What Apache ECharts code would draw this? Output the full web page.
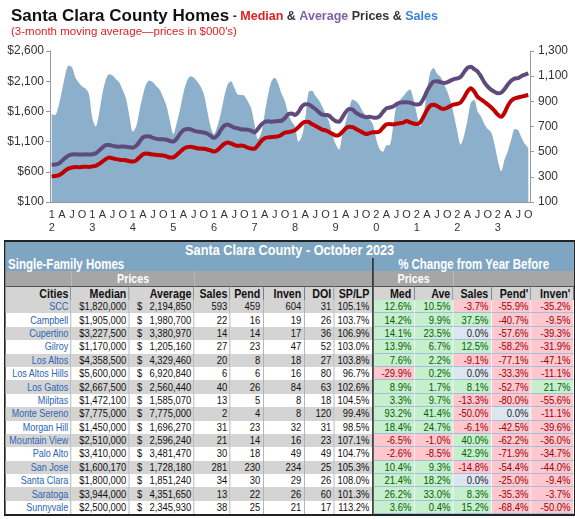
<!DOCTYPE html>
<html>
<head>
<meta charset="utf-8">
<script src="https://cdn.jsdelivr.net/npm/echarts@6.0.0/dist/echarts.min.js"></script>
<style>
  html, body { margin: 0; padding: 0; background: #fff; }
  #wrap { position: relative; width: 575px; height: 519px; overflow: hidden; }
  #chart { position: absolute; left: 0; top: 0; width: 575px; height: 240px; }
  #tbl {
    position: absolute; left: 4px; top: 240px;
    transform: scaleX(0.82); transform-origin: 0 0;
    border-collapse: separate; border-spacing: 0; table-layout: fixed;
    border: 2px solid #222;
    font-family: 'Liberation Sans', Arial, sans-serif;
    font-size: 11.5px; color: #111;
  }
  #tbl td { padding: 0 3px; white-space: nowrap; overflow: hidden; text-align: right; box-sizing: border-box; }
  #tbl tr.ttl td { background: #7ea5c2; color: #fff; font-weight: bold; font-size: 15.5px; text-align: center; height: 16px; line-height: 16px; }
  #tbl tr.sec td { background: #7ea5c2; color: #fff; font-weight: bold; font-size: 14px; height: 13px; line-height: 13px; vertical-align: top; overflow: visible; }
  #tbl tr.prc td { background: #a6a6a6; color: #fff; font-weight: bold; font-size: 13px; height: 15px; line-height: 15px; text-align: center; }
  #tbl tr.hdr td { background: #d4d4d4; font-weight: bold; font-size: 13px; height: 14px; line-height: 13px; border-right: 1px solid #666; border-top: 1px solid #555; }
  #tbl tr.row td { height: 13.4px; line-height: 13px; border-right: 1px solid #a8a8a8; }
  #tbl tr.row.g td { background: #d4d4d4; }
  #tbl tr.row td.city { color: #2d64b3; font-size: 11px; }
  #tbl td.sep { border-right: 2px solid #222 !important; }
  #tbl tr.row td.pc { border-right: 1px solid #fff; border-bottom: 1px solid #a4bddc; padding-right: 3px; line-height: 12px; }
  #tbl td.up { background: #c6efce !important; color: #006100; }
  #tbl td.dn { background: #ffc7ce !important; color: #9c0006; }
  #tbl td.nz { background: #dce6f1 !important; color: #222; }
  #tbl td.avg span { float: left; padding-left: 6px; }
</style>
</head>
<body>
<div id="wrap">
  <div id="chart"></div>
  <table id="tbl"></table>
</div>
<script>
// chart data: monthly, Jan 2012 - Oct 2023, 3-month moving averages
const years = ['12', '13', '14', '15', '16', '17', '18', '19', '20', '21', '22', '23'];
const monthsInLastYear = 10;

// median price, $000's
const median = [
  525, 530, 540, 575, 620, 655, 670, 680, 675, 680, 685, 680,
  690, 700, 730, 770, 810, 835, 825, 810, 800, 795, 790, 775,
  770, 790, 840, 890, 905, 895, 885, 880, 875, 870, 855, 835,
  840, 880, 930, 980, 1010, 1015, 1005, 990, 985, 980, 970, 955,
  935, 960, 1010, 1060, 1085, 1070, 1045, 1030, 1035, 1025, 1000, 985,
  980, 1040, 1110, 1155, 1170, 1175, 1180, 1185, 1215, 1250, 1255, 1270,
  1290, 1340, 1395, 1430, 1425, 1390, 1360, 1330, 1300, 1285, 1260, 1230,
  1200, 1210, 1260, 1320, 1345, 1340, 1310, 1280, 1250, 1225, 1240, 1255,
  1255, 1270, 1330, 1385, 1390, 1385, 1395, 1405, 1415, 1440, 1420, 1400,
  1390, 1420, 1510, 1620, 1695, 1710, 1690, 1655, 1640, 1660, 1690, 1715,
  1725, 1750, 1830, 1930, 1985, 1930, 1840, 1800, 1760, 1715, 1670, 1610,
  1545, 1510, 1580, 1700, 1780, 1815, 1830, 1845, 1860, 1872
];

// average price, $000's
const average = [
  715, 720, 735, 780, 830, 870, 885, 890, 885, 885, 890, 885,
  890, 905, 950, 1000, 1040, 1045, 1030, 1020, 1015, 1020, 1015, 1005,
  1000, 1030, 1100, 1170, 1190, 1185, 1160, 1145, 1140, 1140, 1130, 1110,
  1100, 1150, 1230, 1290, 1310, 1305, 1280, 1265, 1260, 1250, 1235, 1195,
  1160, 1200, 1290, 1360, 1385, 1360, 1330, 1320, 1305, 1300, 1295, 1280,
  1255, 1310, 1380, 1425, 1435, 1430, 1435, 1440, 1445, 1490, 1555, 1565,
  1540, 1590, 1680, 1720, 1715, 1680, 1640, 1590, 1545, 1540, 1530, 1480,
  1440, 1430, 1500, 1590, 1640, 1630, 1580, 1545, 1520, 1505, 1510, 1500,
  1495, 1520, 1590, 1650, 1665, 1680, 1720, 1745, 1750, 1752, 1745, 1725,
  1715, 1725, 1810, 1930, 2030, 2095, 2100, 2085, 2070, 2080, 2110, 2135,
  2145, 2175, 2250, 2320, 2340, 2300, 2260, 2180, 2080, 2010, 1960, 1925,
  1900, 1910, 1970, 2050, 2110, 2145, 2150, 2185, 2210, 2230
];

// sales, units
const sales = [
  800, 790, 860, 980, 1110, 1185, 1170, 1090, 1050, 1020, 1000, 960,
  770, 700, 800, 960, 1070, 1115, 1105, 1075, 1050, 990, 920, 780,
  660, 700, 830, 950, 1040, 1065, 1050, 1020, 990, 930, 860, 740,
  640, 730, 840, 970, 1060, 1100, 1090, 1060, 1020, 960, 830, 700,
  640, 700, 800, 930, 1030, 1060, 1010, 955, 950, 945, 900, 845,
  720, 600, 650, 800, 950, 1060, 1088, 1040, 960, 900, 800, 740,
  700, 580, 620, 760, 975, 985, 945, 910, 860, 800, 740, 640,
  560, 515, 640, 740, 840, 915, 900, 870, 820, 790, 760, 720,
  600, 520, 500, 550, 553, 700, 870, 910, 940, 975, 995, 920,
  800, 700, 790, 980, 1130, 1165, 1120, 1096, 1040, 980, 900, 790,
  660, 555, 630, 750, 890, 910, 820, 780, 720, 680, 655, 560,
  430, 345, 440, 510, 600, 680, 670, 610, 560, 530
];

// table data
const tableTitle = 'Santa Clara County - October 2023';
const headers = ['Cities', 'Median', 'Average', 'Sales', 'Pend', 'Inven', 'DOI', 'SP/LP', 'Med', 'Ave', 'Sales', "Pend'", "Inven'"];
const cities = ['SCC', 'Campbell', 'Cupertino', 'Gilroy', 'Los Altos', 'Los Altos Hills', 'Los Gatos', 'Milpitas',
  'Monte Sereno', 'Morgan Hill', 'Mountain View', 'Palo Alto', 'San Jose', 'Santa Clara', 'Saratoga', 'Sunnyvale'];
const medianPrice = ['1,820,000', '1,905,000', '3,227,500', '1,170,000', '4,358,500', '5,600,000', '2,667,500', '1,472,100',
  '7,775,000', '1,450,000', '2,510,000', '3,410,000', '1,600,170', '1,800,000', '3,944,000', '2,500,000'];
const averagePrice = ['2,194,850', '1,980,700', '3,380,970', '1,205,160', '4,329,460', '6,920,840', '2,560,440', '1,585,070',
  '7,775,000', '1,696,270', '2,596,240', '3,481,470', '1,728,180', '1,851,240', '4,351,650', '2,345,930'];
const salesCount = [593, 22, 14, 27, 20, 6, 40, 13, 2, 31, 21, 30, 281, 34, 13, 38];
const pending = [459, 16, 14, 23, 8, 6, 26, 5, 4, 23, 14, 18, 230, 30, 22, 25];
const inventory = [604, 19, 17, 47, 18, 16, 84, 8, 8, 32, 16, 49, 234, 29, 26, 21];
const doi = [31, 26, 36, 52, 27, 80, 63, 18, 120, 31, 23, 49, 25, 26, 60, 17];
const spLp = ['105.1%', '103.7%', '106.9%', '103.0%', '103.8%', '96.7%', '102.6%', '104.5%',
  '99.4%', '98.5%', '107.1%', '104.7%', '105.3%', '108.0%', '101.3%', '113.2%'];
const chgMed = [12.6, 14.2, 14.1, 13.9, 7.6, -29.9, 8.9, 3.3, 93.2, 18.4, -6.5, -2.6, 10.4, 21.4, 26.2, 3.6];
const chgAve = [10.5, 9.9, 23.5, 6.7, 2.2, 0.2, 1.7, 9.7, 41.4, 24.7, -1.0, -8.5, 9.3, 18.2, 33.0, 0.4];
const chgSales = [-3.7, 37.5, 0.0, 12.5, -9.1, 0.0, 8.1, -13.3, -50.0, -6.1, 40.0, 42.9, -14.8, 0.0, 8.3, 15.2];
const chgPend = [-55.9, -40.7, -57.6, -58.2, -77.1, -33.3, -52.7, -80.0, 0.0, -42.5, -62.2, -71.9, -54.4, -25.0, -35.3, -68.4];
const chgInven = [-35.2, -9.5, -39.3, -31.9, -47.1, -11.1, 21.7, -55.6, -11.1, -39.6, -36.0, -34.7, -44.0, -9.4, -3.7, -50.0];

// month categories and their quarter labels
const categories = [];
const axisText = [];
years.forEach((yy, yi) => {
  const n = yi === years.length - 1 ? monthsInLastYear : 12;
  for (let m = 0; m < n; m++) {
    categories.push(yy + '-' + (m + 1));
    axisText.push(m === 0 ? yy[0] + '\n' + yy[1] : m === 3 ? 'A' : m === 6 ? 'J' : m === 9 ? 'O' : '');
  }
});

const font = "'Liberation Sans', Arial, sans-serif";
const chart = echarts.init(document.getElementById('chart'), null, { renderer: 'canvas' });
chart.setOption({
  animation: false,
  backgroundColor: '#fff',
  title: {
    left: 6,
    top: 3,
    text: '{a|Santa Clara County Homes}{b| - }{r|Median}{b| & }{p|Average}{b| Prices & }{s|Sales}',
    subtext: "(3-month moving average\u2014prices in $000's)",
    itemGap: 1,
    textStyle: {
      rich: {
        a: { fontFamily: font, fontSize: 17, fontWeight: 'bold', color: '#111' },
        b: { fontFamily: font, fontSize: 12.5, color: '#333' },
        r: { fontFamily: font, fontSize: 12.5, color: '#e02020' },
        p: { fontFamily: font, fontSize: 12.5, color: '#7e5fa8' },
        s: { fontFamily: font, fontSize: 12.5, color: '#3a85d8' }
      }
    },
    subtextStyle: { fontFamily: font, fontSize: 11.5, color: '#e02020' }
  },
  grid: { left: 50, right: 45, top: 51, height: 151 },
  xAxis: {
    type: 'category',
    data: categories,
    boundaryGap: true,
    axisLine: { lineStyle: { color: '#999' } },
    axisTick: { interval: 0, length: 3, lineStyle: { color: '#aaa' } },
    axisLabel: {
      interval: 0,
      formatter: (v, i) => axisText[i],
      fontFamily: font, fontSize: 11, color: '#333', lineHeight: 13, margin: 6
    },
    splitLine: { show: false }
  },
  yAxis: [
    {
      type: 'value', min: 100, max: 2600, interval: 500,
      axisLine: { show: true, lineStyle: { color: '#999' } },
      axisTick: { show: true, length: 4, lineStyle: { color: '#999' } },
      splitLine: { show: false },
      axisLabel: {
        formatter: v => '$' + v.toLocaleString('en-US'),
        fontFamily: font, fontSize: 12, color: '#333', margin: 6
      }
    },
    {
      type: 'value', min: 100, max: 1300, interval: 200,
      axisLine: { show: true, lineStyle: { color: '#999' } },
      axisTick: { show: true, length: 4, lineStyle: { color: '#999' } },
      splitLine: { show: false },
      axisLabel: {
        formatter: v => v.toLocaleString('en-US'),
        fontFamily: font, fontSize: 12, color: '#333', margin: 8
      }
    }
  ],
  series: [
    {
      name: 'Sales', type: 'line', yAxisIndex: 1, data: sales,
      showSymbol: false, smooth: 0.3,
      lineStyle: { width: 0 },
      itemStyle: { color: '#8cafcc' },
      areaStyle: { color: '#8cafcc', opacity: 1 }
    },
    {
      name: 'Average', type: 'line', yAxisIndex: 0, data: average,
      showSymbol: false, smooth: 0.3,
      lineStyle: { width: 4, color: '#604a7b' },
      itemStyle: { color: '#604a7b' }
    },
    {
      name: 'Median', type: 'line', yAxisIndex: 0, data: median,
      showSymbol: false, smooth: 0.3,
      lineStyle: { width: 4, color: '#c00000' },
      itemStyle: { color: '#c00000' }
    }
  ]
});

// table, laid out wide and squeezed horizontally to get the narrow spreadsheet look
const squeeze = 0.82;
const colWidths = [66, 58, 65, 36, 33, 41, 30, 39, 41, 39, 38, 40, 42];
const tbl = document.getElementById('tbl');
tbl.style.width = (colWidths.reduce((a, b) => a + b, 0) / squeeze) + 'px';
function pctCell(v) {
  const cls = v > 0 ? 'up' : v < 0 ? 'dn' : 'nz';
  return '<td class="pc ' + cls + '">' + v.toFixed(1) + '%</td>';
}
let html = '<colgroup>' + colWidths.map(w => '<col style="width:' + (w / squeeze) + 'px">').join('') + '</colgroup>';
html += '<tr class="ttl"><td colspan="13">' + tableTitle + '</td></tr>';
html += '<tr class="sec"><td colspan="8" class="sep" style="text-align:left">Single-Family Homes</td>' +
  '<td colspan="5" style="text-align:center">% Change from Year Before</td></tr>';
html += '<tr class="prc"><td></td><td colspan="2">Prices</td><td colspan="5" class="sep"></td>' +
  '<td colspan="2">Prices</td><td colspan="3"></td></tr>';
html += '<tr class="hdr">' + headers.map((h, i) => '<td' + (i === 7 ? ' class="sep"' : '') + '>' + h + '</td>').join('') + '</tr>';
cities.forEach((c, i) => {
  html += '<tr class="row' + (i % 2 === 0 ? ' g' : '') + '">' +
    '<td class="city">' + c + '</td>' +
    '<td>$' + medianPrice[i] + '</td>' +
    '<td class="avg"><span>$</span>' + averagePrice[i] + '</td>' +
    '<td>' + salesCount[i] + '</td>' +
    '<td>' + pending[i] + '</td>' +
    '<td>' + inventory[i] + '</td>' +
    '<td>' + doi[i] + '</td>' +
    '<td class="sep">' + spLp[i] + '</td>' +
    pctCell(chgMed[i]) + pctCell(chgAve[i]) + pctCell(chgSales[i]) + pctCell(chgPend[i]) + pctCell(chgInven[i]) +
    '</tr>';
});
tbl.innerHTML = html;
</script>
</body>
</html>
